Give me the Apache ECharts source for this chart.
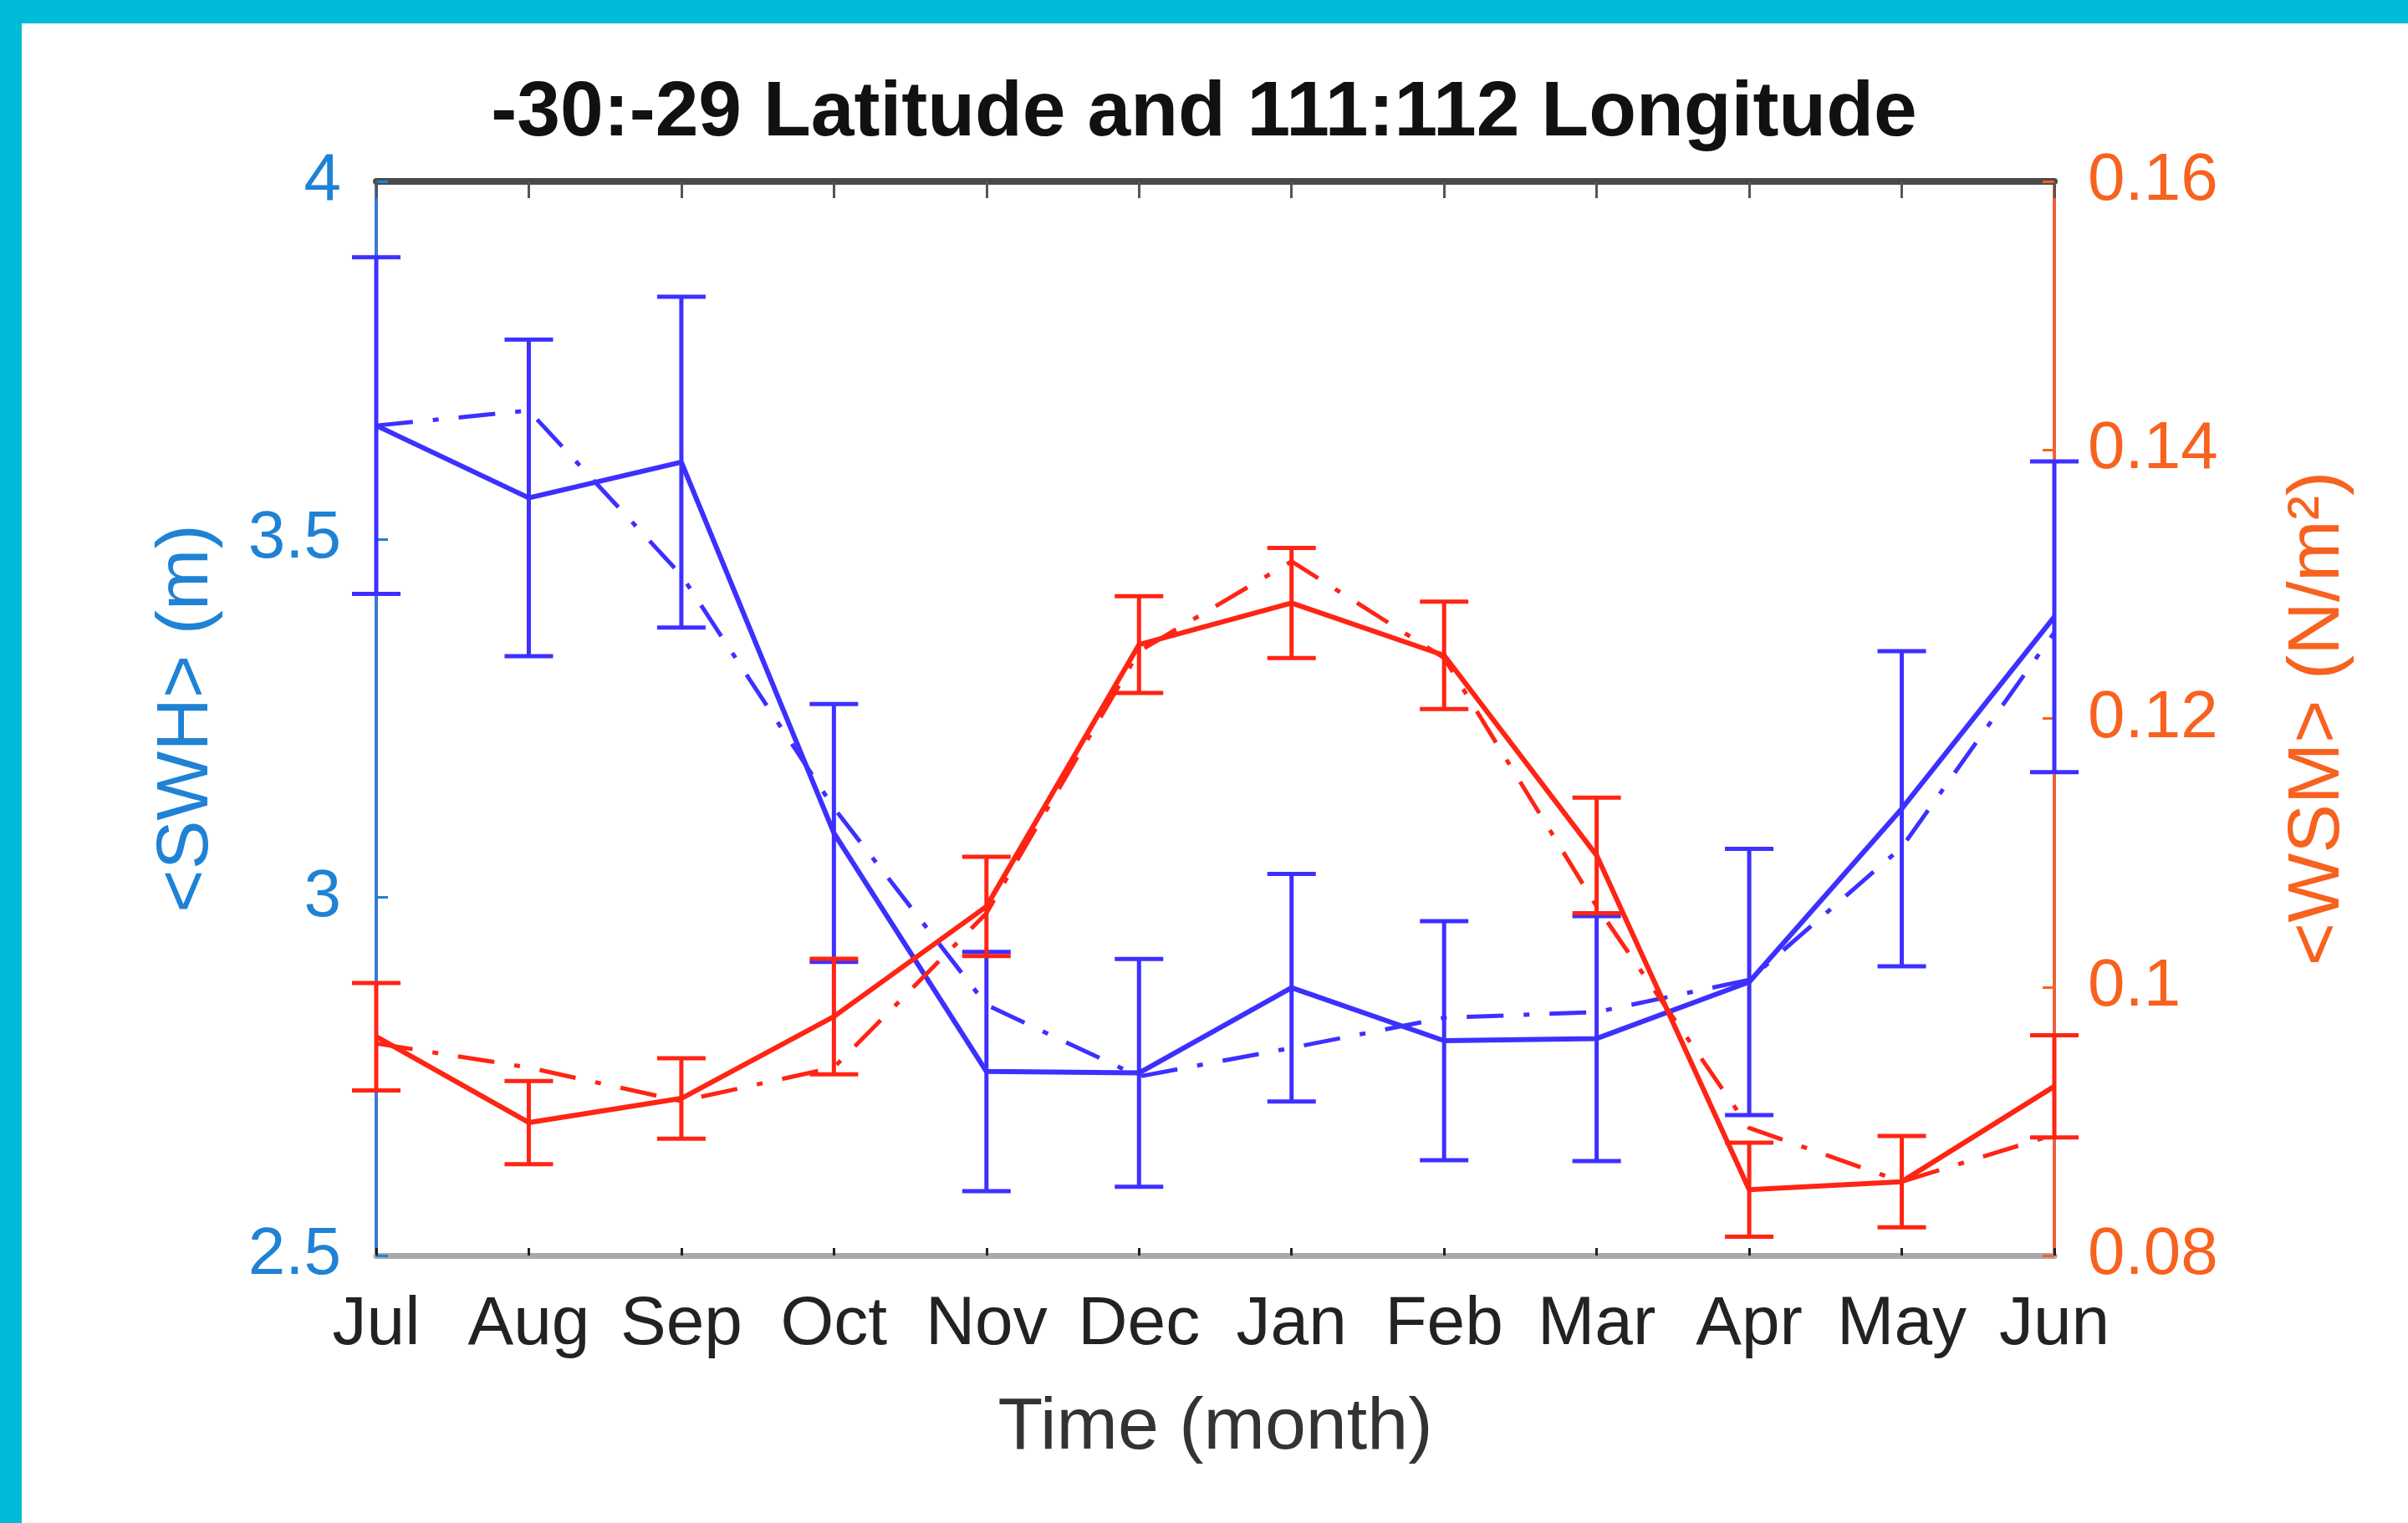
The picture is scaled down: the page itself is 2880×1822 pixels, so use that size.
<!DOCTYPE html>
<html>
<head>
<meta charset="utf-8">
<script src="https://cdn.jsdelivr.net/npm/echarts@6/dist/echarts.min.js"></script>
<style>
html,body{margin:0;padding:0;background:#fff;}
#chart{width:2880px;height:1822px;}
</style>
</head>
<body>
<div id="chart"></div>
<script>
// ---- data ----
const months = ['Jul','Aug','Sep','Oct','Nov','Dec','Jan','Feb','Mar','Apr','May','Jun'];
// <SWH> (m), left axis
const swhMean    = [3.659, 3.558, 3.608, 3.090, 2.757, 2.755, 2.874, 2.800, 2.803, 2.882, 3.124, 3.392];
const swhErr     = [0.235, 0.221, 0.231, 0.180, 0.167, 0.159, 0.159, 0.167, 0.171, 0.186, 0.220, 0.217];
const swhDashDot = [3.659, 3.680, 3.450, 3.125, 2.850, 2.750, 2.790, 2.832, 2.840, 2.885, 3.070, 3.370];
// <WSM> (N/m^2), right axis
const wsmMean    = [0.0963, 0.0899, 0.0917, 0.0978, 0.1060, 0.1255, 0.1286, 0.1247, 0.1098, 0.0849, 0.0855, 0.0926];
const wsmErr     = [0.0040, 0.0031, 0.0030, 0.0043, 0.0037, 0.0036, 0.0041, 0.0040, 0.0043, 0.0035, 0.0034, 0.0038];
const wsmDashDot = [0.0958, 0.0940, 0.0915, 0.0940, 0.1055, 0.1250, 0.1317, 0.1245, 0.1060, 0.0895, 0.0855, 0.0890];
const leftTicks  = {min: 2.5, max: 4, interval: 0.5};
const rightTicks = {min: 0.08, max: 0.16, interval: 0.02};

const FONT = 'Liberation Sans, Arial, Helvetica, sans-serif';
const BLUE = '#3d30ff';
const RED = '#ff2414';
const LBLUE = '#1f82d4';
const ORANGE = '#f7621f';

function errData(mean, err) {
  return mean.map((m, i) => [i, m - err[i], m + err[i]]);
}
function errRender(color) {
  return function (params, api) {
    const x = api.value(0);
    const lo = api.coord([x, api.value(1)]);
    const hi = api.coord([x, api.value(2)]);
    const hw = 29;
    const st = {stroke: color, lineWidth: 5};
    return {
      type: 'group',
      children: [
        {type: 'line', shape: {x1: hi[0], y1: hi[1], x2: lo[0], y2: lo[1]}, style: st},
        {type: 'line', shape: {x1: hi[0] - hw, y1: hi[1], x2: hi[0] + hw, y2: hi[1]}, style: st},
        {type: 'line', shape: {x1: lo[0] - hw, y1: lo[1], x2: lo[0] + hw, y2: lo[1]}, style: st}
      ]
    };
  };
}
const dashDot = [44, 24, 7, 24];

const chart = echarts.init(document.getElementById('chart'), null, {renderer: 'canvas'});
chart.setOption({
  backgroundColor: '#ffffff',
  animation: false,
  textStyle: {fontFamily: FONT},
  graphic: [
    {type: 'rect', silent: true, z: -10, shape: {x: 0, y: 0, width: 2880, height: 28}, style: {fill: '#00bbd8'}},
    {type: 'rect', silent: true, z: -10, shape: {x: 0, y: 0, width: 26, height: 1822}, style: {fill: '#00bbd8'}}
  ],
  title: {
    text: '-30:-29 Latitude and 111:112 Longitude',
    left: 'center',
    padding: [0, 0, 0, 26],
    top: 90,
    textStyle: {fontFamily: FONT, fontSize: 93, fontWeight: 'bold', color: '#111'}
  },
  grid: {left: 450, right: 423, top: 217, bottom: 320, containLabel: false},
  xAxis: [
    {
      type: 'category', data: months, boundaryGap: false, position: 'bottom',
      axisLine: {show: true, lineStyle: {color: '#a8a8a8', width: 7}},
      axisTick: {show: true, inside: true, length: 9, lineStyle: {color: '#222', width: 3}},
      axisLabel: {fontSize: 82, color: '#222', margin: 42, fontFamily: FONT, interval: 0},
      splitLine: {show: false},
      name: 'Time (month)', nameLocation: 'middle', nameGap: 163,
      nameTextStyle: {fontSize: 88, color: '#333', fontFamily: FONT}
    },
    {
      type: 'category', data: months, boundaryGap: false, position: 'top',
      axisLine: {show: true, lineStyle: {color: '#4a4a4a', width: 8}},
      axisTick: {show: true, inside: true, length: 20, lineStyle: {color: '#555', width: 3}},
      axisLabel: {show: false},
      splitLine: {show: false}
    }
  ],
  yAxis: [
    {
      type: 'value', position: 'left',
      min: leftTicks.min, max: leftTicks.max, interval: leftTicks.interval,
      axisLine: {show: true, lineStyle: {color: '#3a78d0', width: 4}},
      axisTick: {show: true, inside: true, length: 14, lineStyle: {color: LBLUE, width: 3}},
      axisLabel: {fontSize: 80, color: LBLUE, margin: 42, fontFamily: FONT},
      splitLine: {show: false},
      name: '<SWH> (m)', nameLocation: 'middle', nameRotate: 90, nameGap: 182,
      nameTextStyle: {fontSize: 88, color: LBLUE, fontFamily: FONT}
    },
    {
      type: 'value', position: 'right',
      min: rightTicks.min, max: rightTicks.max, interval: rightTicks.interval,
      axisLine: {show: true, lineStyle: {color: '#f2603a', width: 4}},
      axisTick: {show: true, inside: true, length: 14, lineStyle: {color: ORANGE, width: 3}},
      axisLabel: {fontSize: 80, color: ORANGE, margin: 40, fontFamily: FONT},
      splitLine: {show: false},
      name: '<WSM> (N/m²)', nameLocation: 'middle', nameRotate: 90, nameGap: 272,
      nameTextStyle: {fontSize: 88, color: ORANGE, fontFamily: FONT}
    }
  ],
  series: [
    {
      name: 'SWH', type: 'line', xAxisIndex: 0, yAxisIndex: 0, data: swhMean,
      showSymbol: false, symbol: 'none', lineStyle: {color: BLUE, width: 6}, z: 3
    },
    {
      name: 'SWH dash-dot', type: 'line', xAxisIndex: 0, yAxisIndex: 0, data: swhDashDot,
      showSymbol: false, symbol: 'none', lineStyle: {color: BLUE, width: 5, type: dashDot}, z: 3
    },
    {
      name: 'SWH error', type: 'custom', xAxisIndex: 0, yAxisIndex: 0,
      data: errData(swhMean, swhErr), encode: {x: 0, y: [1, 2]},
      renderItem: errRender(BLUE), clip: false, z: 3
    },
    {
      name: 'WSM', type: 'line', xAxisIndex: 0, yAxisIndex: 1, data: wsmMean,
      showSymbol: false, symbol: 'none', lineStyle: {color: RED, width: 6}, z: 4
    },
    {
      name: 'WSM dash-dot', type: 'line', xAxisIndex: 0, yAxisIndex: 1, data: wsmDashDot,
      showSymbol: false, symbol: 'none', lineStyle: {color: RED, width: 5, type: dashDot}, z: 4
    },
    {
      name: 'WSM error', type: 'custom', xAxisIndex: 0, yAxisIndex: 1,
      data: errData(wsmMean, wsmErr), encode: {x: 0, y: [1, 2]},
      renderItem: errRender(RED), clip: false, z: 4
    }
  ]
});
</script>
</body>
</html>
